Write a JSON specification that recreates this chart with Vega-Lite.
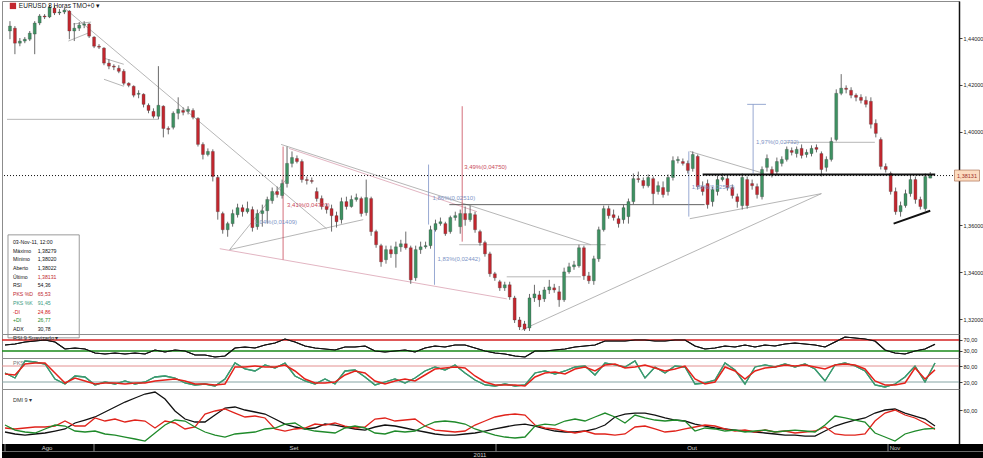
{
"$schema":"https://vega.github.io/schema/vega-lite/v6.json",
"background":"white","padding":0,"spacing":0,"bounds":"flush",
"config":{"view":{"stroke":"#8c8c8c","strokeWidth":1},"font":"Liberation Sans",
 "axis":{"labelFont":"Liberation Sans","labelFontSize":5.5,"labelColor":"#222","tickSize":3,"tickColor":"#444","domainColor":"#111","domainWidth":1.5,"grid":false,"labelPadding":1}},
"datasets":{
"candles":[
{"i":0,"o":1.4430,"h":1.4472,"l":1.4395,"c":1.4451},{"i":1,"o":1.4442,"h":1.4451,"l":1.4331,"c":1.4378},{"i":2,"o":1.4378,"h":1.4400,"l":1.4365,"c":1.4387},{"i":3,"o":1.4387,"h":1.4404,"l":1.4378,"c":1.4395},{"i":4,"o":1.4395,"h":1.4430,"l":1.4387,"c":1.4421},{"i":5,"o":1.4417,"h":1.4472,"l":1.4331,"c":1.4464},{"i":6,"o":1.4464,"h":1.4502,"l":1.4455,"c":1.4494},{"i":7,"o":1.4494,"h":1.4502,"l":1.4481,"c":1.4490},{"i":8,"o":1.4490,"h":1.4541,"l":1.4485,"c":1.4532},{"i":9,"o":1.4528,"h":1.4537,"l":1.4498,"c":1.4507},
{"i":10,"o":1.4507,"h":1.4524,"l":1.4498,"c":1.4511},{"i":11,"o":1.4511,"h":1.4528,"l":1.4502,"c":1.4519},{"i":12,"o":1.4515,"h":1.4519,"l":1.4395,"c":1.4430},{"i":13,"o":1.4430,"h":1.4464,"l":1.4387,"c":1.4442},{"i":14,"o":1.4442,"h":1.4468,"l":1.4430,"c":1.4455},{"i":15,"o":1.4455,"h":1.4472,"l":1.4442,"c":1.4460},{"i":16,"o":1.4460,"h":1.4464,"l":1.4400,"c":1.4408},{"i":17,"o":1.4404,"h":1.4408,"l":1.4357,"c":1.4365},{"i":18,"o":1.4365,"h":1.4374,"l":1.4353,"c":1.4361},{"i":19,"o":1.4357,"h":1.4361,"l":1.4284,"c":1.4293},
{"i":20,"o":1.4293,"h":1.4310,"l":1.4267,"c":1.4280},{"i":21,"o":1.4280,"h":1.4288,"l":1.4263,"c":1.4276},{"i":22,"o":1.4271,"h":1.4284,"l":1.4250,"c":1.4258},{"i":23,"o":1.4258,"h":1.4267,"l":1.4198,"c":1.4207},{"i":24,"o":1.4207,"h":1.4211,"l":1.4190,"c":1.4198},{"i":25,"o":1.4194,"h":1.4198,"l":1.4147,"c":1.4156},{"i":26,"o":1.4160,"h":1.4177,"l":1.4143,"c":1.4164},{"i":27,"o":1.4160,"h":1.4164,"l":1.4104,"c":1.4117},{"i":28,"o":1.4113,"h":1.4121,"l":1.4079,"c":1.4091},{"i":29,"o":1.4087,"h":1.4100,"l":1.4057,"c":1.4066},
{"i":30,"o":1.4066,"h":1.4280,"l":1.4053,"c":1.4113},{"i":31,"o":1.4109,"h":1.4113,"l":1.3976,"c":1.4014},{"i":32,"o":1.4014,"h":1.4023,"l":1.3989,"c":1.4010},{"i":33,"o":1.4019,"h":1.4087,"l":1.4010,"c":1.4079},{"i":34,"o":1.4079,"h":1.4147,"l":1.4053,"c":1.4096},{"i":35,"o":1.4091,"h":1.4104,"l":1.4070,"c":1.4083},{"i":36,"o":1.4087,"h":1.4109,"l":1.4074,"c":1.4096},{"i":37,"o":1.4091,"h":1.4100,"l":1.4053,"c":1.4062},{"i":38,"o":1.4057,"h":1.4062,"l":1.3937,"c":1.3946},{"i":39,"o":1.3946,"h":1.3955,"l":1.3882,"c":1.3903},
{"i":40,"o":1.3903,"h":1.3929,"l":1.3895,"c":1.3916},{"i":41,"o":1.3916,"h":1.3925,"l":1.3788,"c":1.3809},{"i":42,"o":1.3805,"h":1.3813,"l":1.3625,"c":1.3659},{"i":43,"o":1.3651,"h":1.3659,"l":1.3565,"c":1.3582},{"i":44,"o":1.3582,"h":1.3616,"l":1.3552,"c":1.3608},{"i":45,"o":1.3608,"h":1.3668,"l":1.3595,"c":1.3651},{"i":46,"o":1.3646,"h":1.3693,"l":1.3634,"c":1.3676},{"i":47,"o":1.3676,"h":1.3689,"l":1.3638,"c":1.3659},{"i":48,"o":1.3659,"h":1.3702,"l":1.3651,"c":1.3672},{"i":49,"o":1.3668,"h":1.3681,"l":1.3574,"c":1.3591},
{"i":50,"o":1.3595,"h":1.3668,"l":1.3582,"c":1.3651},{"i":51,"o":1.3651,"h":1.3689,"l":1.3595,"c":1.3663},{"i":52,"o":1.3663,"h":1.3723,"l":1.3608,"c":1.3711},{"i":53,"o":1.3706,"h":1.3762,"l":1.3693,"c":1.3745},{"i":54,"o":1.3745,"h":1.3766,"l":1.3719,"c":1.3732},{"i":55,"o":1.3728,"h":1.3796,"l":1.3715,"c":1.3779},{"i":56,"o":1.3779,"h":1.3937,"l":1.3762,"c":1.3865},{"i":57,"o":1.3865,"h":1.3916,"l":1.3848,"c":1.3890},{"i":58,"o":1.3886,"h":1.3899,"l":1.3865,"c":1.3873},{"i":59,"o":1.3873,"h":1.3882,"l":1.3783,"c":1.3796},
{"i":60,"o":1.3796,"h":1.3809,"l":1.3775,"c":1.3792},{"i":61,"o":1.3792,"h":1.3805,"l":1.3779,"c":1.3788},{"i":62,"o":1.3745,"h":1.3762,"l":1.3702,"c":1.3715},{"i":63,"o":1.3715,"h":1.3728,"l":1.3668,"c":1.3681},{"i":64,"o":1.3681,"h":1.3693,"l":1.3651,"c":1.3668},{"i":65,"o":1.3672,"h":1.3689,"l":1.3574,"c":1.3642},{"i":66,"o":1.3642,"h":1.3659,"l":1.3591,"c":1.3616},{"i":67,"o":1.3625,"h":1.3719,"l":1.3608,"c":1.3702},{"i":68,"o":1.3702,"h":1.3723,"l":1.3668,"c":1.3681},{"i":69,"o":1.3681,"h":1.3728,"l":1.3676,"c":1.3711},
{"i":70,"o":1.3711,"h":1.3736,"l":1.3702,"c":1.3719},{"i":71,"o":1.3715,"h":1.3723,"l":1.3638,"c":1.3651},{"i":72,"o":1.3655,"h":1.3796,"l":1.3642,"c":1.3719},{"i":73,"o":1.3715,"h":1.3723,"l":1.3556,"c":1.3574},{"i":74,"o":1.3574,"h":1.3582,"l":1.3505,"c":1.3518},{"i":75,"o":1.3514,"h":1.3522,"l":1.3424,"c":1.3445},{"i":76,"o":1.3454,"h":1.3514,"l":1.3437,"c":1.3497},{"i":77,"o":1.3497,"h":1.3514,"l":1.3462,"c":1.3479},{"i":78,"o":1.3479,"h":1.3531,"l":1.3420,"c":1.3509},{"i":79,"o":1.3509,"h":1.3539,"l":1.3488,"c":1.3522},
{"i":80,"o":1.3522,"h":1.3574,"l":1.3497,"c":1.3505},{"i":81,"o":1.3505,"h":1.3514,"l":1.3351,"c":1.3368},{"i":82,"o":1.3377,"h":1.3514,"l":1.3364,"c":1.3497},{"i":83,"o":1.3497,"h":1.3531,"l":1.3479,"c":1.3509},{"i":84,"o":1.3509,"h":1.3531,"l":1.3501,"c":1.3514},{"i":85,"o":1.3514,"h":1.3599,"l":1.3501,"c":1.3582},{"i":86,"o":1.3582,"h":1.3625,"l":1.3574,"c":1.3608},{"i":87,"o":1.3608,"h":1.3634,"l":1.3599,"c":1.3616},{"i":88,"o":1.3608,"h":1.3616,"l":1.3556,"c":1.3565},{"i":89,"o":1.3574,"h":1.3642,"l":1.3565,"c":1.3634},
{"i":90,"o":1.3634,"h":1.3659,"l":1.3621,"c":1.3642},{"i":91,"o":1.3595,"h":1.3668,"l":1.3565,"c":1.3651},{"i":92,"o":1.3651,"h":1.3681,"l":1.3599,"c":1.3625},{"i":93,"o":1.3625,"h":1.3685,"l":1.3616,"c":1.3651},{"i":94,"o":1.3646,"h":1.3659,"l":1.3569,"c":1.3582},{"i":95,"o":1.3574,"h":1.3582,"l":1.3514,"c":1.3527},{"i":96,"o":1.3527,"h":1.3535,"l":1.3467,"c":1.3479},{"i":97,"o":1.3479,"h":1.3488,"l":1.3381,"c":1.3394},{"i":98,"o":1.3394,"h":1.3402,"l":1.3364,"c":1.3377},{"i":99,"o":1.3360,"h":1.3368,"l":1.3321,"c":1.3334},
{"i":100,"o":1.3334,"h":1.3360,"l":1.3321,"c":1.3347},{"i":101,"o":1.3347,"h":1.3360,"l":1.3283,"c":1.3295},{"i":102,"o":1.3291,"h":1.3300,"l":1.3184,"c":1.3197},{"i":103,"o":1.3197,"h":1.3210,"l":1.3154,"c":1.3167},{"i":104,"o":1.3180,"h":1.3193,"l":1.3150,"c":1.3158},{"i":105,"o":1.3163,"h":1.3308,"l":1.3150,"c":1.3291},{"i":106,"o":1.3291,"h":1.3347,"l":1.3274,"c":1.3308},{"i":107,"o":1.3304,"h":1.3321,"l":1.3253,"c":1.3283},{"i":108,"o":1.3287,"h":1.3338,"l":1.3274,"c":1.3325},{"i":109,"o":1.3325,"h":1.3368,"l":1.3308,"c":1.3338},
{"i":110,"o":1.3334,"h":1.3351,"l":1.3313,"c":1.3325},{"i":111,"o":1.3317,"h":1.3342,"l":1.3253,"c":1.3283},{"i":112,"o":1.3283,"h":1.3420,"l":1.3274,"c":1.3402},{"i":113,"o":1.3402,"h":1.3441,"l":1.3394,"c":1.3424},{"i":114,"o":1.3424,"h":1.3449,"l":1.3411,"c":1.3432},{"i":115,"o":1.3428,"h":1.3518,"l":1.3420,"c":1.3505},{"i":116,"o":1.3505,"h":1.3514,"l":1.3368,"c":1.3385},{"i":117,"o":1.3385,"h":1.3402,"l":1.3351,"c":1.3364},{"i":118,"o":1.3364,"h":1.3471,"l":1.3347,"c":1.3458},{"i":119,"o":1.3458,"h":1.3595,"l":1.3445,"c":1.3582},
{"i":120,"o":1.3582,"h":1.3685,"l":1.3574,"c":1.3672},{"i":121,"o":1.3672,"h":1.3685,"l":1.3629,"c":1.3642},{"i":122,"o":1.3646,"h":1.3668,"l":1.3621,"c":1.3634},{"i":123,"o":1.3629,"h":1.3642,"l":1.3591,"c":1.3608},{"i":124,"o":1.3625,"h":1.3689,"l":1.3608,"c":1.3676},{"i":125,"o":1.3638,"h":1.3715,"l":1.3608,"c":1.3702},{"i":126,"o":1.3702,"h":1.3822,"l":1.3689,"c":1.3800},{"i":127,"o":1.3800,"h":1.3830,"l":1.3783,"c":1.3796},{"i":128,"o":1.3792,"h":1.3805,"l":1.3758,"c":1.3770},{"i":129,"o":1.3770,"h":1.3818,"l":1.3762,"c":1.3805},
{"i":130,"o":1.3800,"h":1.3809,"l":1.3689,"c":1.3736},{"i":131,"o":1.3745,"h":1.3788,"l":1.3732,"c":1.3770},{"i":132,"o":1.3762,"h":1.3788,"l":1.3719,"c":1.3732},{"i":133,"o":1.3745,"h":1.3818,"l":1.3728,"c":1.3805},{"i":134,"o":1.3805,"h":1.3895,"l":1.3792,"c":1.3877},{"i":135,"o":1.3877,"h":1.3895,"l":1.3865,"c":1.3882},{"i":136,"o":1.3873,"h":1.3886,"l":1.3856,"c":1.3865},{"i":137,"o":1.3865,"h":1.3877,"l":1.3822,"c":1.3835},{"i":138,"o":1.3843,"h":1.3916,"l":1.3830,"c":1.3903},{"i":139,"o":1.3895,"h":1.3903,"l":1.3753,"c":1.3766},
{"i":140,"o":1.3766,"h":1.3788,"l":1.3728,"c":1.3745},{"i":141,"o":1.3779,"h":1.3796,"l":1.3672,"c":1.3689},{"i":142,"o":1.3702,"h":1.3766,"l":1.3681,"c":1.3753},{"i":143,"o":1.3745,"h":1.3813,"l":1.3728,"c":1.3796},{"i":144,"o":1.3796,"h":1.3822,"l":1.3788,"c":1.3805},{"i":145,"o":1.3800,"h":1.3813,"l":1.3749,"c":1.3762},{"i":146,"o":1.3762,"h":1.3775,"l":1.3715,"c":1.3728},{"i":147,"o":1.3723,"h":1.3736,"l":1.3676,"c":1.3702},{"i":148,"o":1.3685,"h":1.3822,"l":1.3668,"c":1.3805},{"i":149,"o":1.3796,"h":1.3809,"l":1.3672,"c":1.3685},
{"i":150,"o":1.3779,"h":1.3796,"l":1.3753,"c":1.3770},{"i":151,"o":1.3766,"h":1.3779,"l":1.3715,"c":1.3732},{"i":152,"o":1.3723,"h":1.3852,"l":1.3711,"c":1.3839},{"i":153,"o":1.3848,"h":1.3903,"l":1.3830,"c":1.3886},{"i":154,"o":1.3839,"h":1.3852,"l":1.3805,"c":1.3818},{"i":155,"o":1.3830,"h":1.3890,"l":1.3813,"c":1.3873},{"i":156,"o":1.3865,"h":1.3895,"l":1.3852,"c":1.3882},{"i":157,"o":1.3882,"h":1.3937,"l":1.3873,"c":1.3925},{"i":158,"o":1.3920,"h":1.3933,"l":1.3899,"c":1.3912},{"i":159,"o":1.3907,"h":1.3937,"l":1.3890,"c":1.3925},
{"i":160,"o":1.3929,"h":1.3946,"l":1.3886,"c":1.3899},{"i":161,"o":1.3903,"h":1.3925,"l":1.3890,"c":1.3912},{"i":162,"o":1.3907,"h":1.3942,"l":1.3895,"c":1.3929},{"i":163,"o":1.3933,"h":1.3946,"l":1.3912,"c":1.3925},{"i":164,"o":1.3907,"h":1.3916,"l":1.3809,"c":1.3839},{"i":165,"o":1.3848,"h":1.3895,"l":1.3830,"c":1.3882},{"i":166,"o":1.3882,"h":1.3976,"l":1.3873,"c":1.3959},{"i":167,"o":1.3967,"h":1.4181,"l":1.3959,"c":1.4164},{"i":168,"o":1.4164,"h":1.4246,"l":1.4156,"c":1.4186},{"i":169,"o":1.4186,"h":1.4198,"l":1.4164,"c":1.4181},
{"i":170,"o":1.4177,"h":1.4190,"l":1.4143,"c":1.4156},{"i":171,"o":1.4156,"h":1.4164,"l":1.4130,"c":1.4147},{"i":172,"o":1.4147,"h":1.4160,"l":1.4121,"c":1.4134},{"i":173,"o":1.4134,"h":1.4151,"l":1.4104,"c":1.4117},{"i":174,"o":1.4130,"h":1.4147,"l":1.4014,"c":1.4032},{"i":175,"o":1.4036,"h":1.4053,"l":1.3976,"c":1.3993},{"i":176,"o":1.3967,"h":1.3976,"l":1.3839,"c":1.3852},{"i":177,"o":1.3852,"h":1.3865,"l":1.3826,"c":1.3839},{"i":178,"o":1.3822,"h":1.3830,"l":1.3732,"c":1.3745},{"i":179,"o":1.3745,"h":1.3762,"l":1.3646,"c":1.3659},
{"i":180,"o":1.3659,"h":1.3702,"l":1.3638,"c":1.3685},{"i":181,"o":1.3685,"h":1.3753,"l":1.3676,"c":1.3736},{"i":182,"o":1.3736,"h":1.3813,"l":1.3723,"c":1.3796},{"i":183,"o":1.3796,"h":1.3809,"l":1.3693,"c":1.3711},{"i":184,"o":1.3711,"h":1.3723,"l":1.3668,"c":1.3681},{"i":185,"o":1.3672,"h":1.3822,"l":1.3663,"c":1.3809},{"i":186,"o":1.38022,"h":1.38279,"l":1.38020,"c":1.38131}
],
"ind":[
{"i":0,"rsi":51.8,"d":50,"k":53.8,"adx":20,"mdi":27.3,"pdi":32.7},{"i":2,"rsi":55.4,"d":46.3,"k":35,"adx":16.4,"mdi":25.5,"pdi":23.6},{"i":4,"rsi":62.7,"d":87.5,"k":98.8,"adx":14.5,"mdi":27.3,"pdi":20},{"i":6,"rsi":66.4,"d":91.3,"k":95,"adx":16.4,"mdi":29.1,"pdi":18.2},{"i":8,"rsi":70,"d":91.3,"k":87.5,"adx":18.2,"mdi":29.1,"pdi":25.5},{"i":10,"rsi":62.7,"d":53.8,"k":31.3,"adx":21.8,"mdi":30.9,"pdi":32.7},{"i":12,"rsi":37.2,"d":16.3,"k":12.5,"adx":25.5,"mdi":40,"pdi":30.9},{"i":14,"rsi":40.9,"d":35,"k":42.5,"adx":36.4,"mdi":30.9,"pdi":21.8},{"i":16,"rsi":37.2,"d":23.8,"k":38.8,"adx":41.8,"mdi":30.9,"pdi":20},{"i":18,"rsi":22.7,"d":12.5,"k":8.8,"adx":47.3,"mdi":45.5,"pdi":21.8},
{"i":20,"rsi":19,"d":16.3,"k":20,"adx":56.4,"mdi":40,"pdi":16.4},{"i":22,"rsi":22.7,"d":16.3,"k":12.5,"adx":65.5,"mdi":43.6,"pdi":14.5},{"i":24,"rsi":19,"d":12.5,"k":23.8,"adx":74.5,"mdi":38.2,"pdi":10.9},{"i":26,"rsi":22.7,"d":16.3,"k":12.5,"adx":81.8,"mdi":41.8,"pdi":7.3},{"i":28,"rsi":19,"d":16.3,"k":20,"adx":89.1,"mdi":40,"pdi":3.6},{"i":30,"rsi":33.6,"d":23.8,"k":38.8,"adx":92.7,"mdi":27.3,"pdi":18.2},{"i":32,"rsi":26.3,"d":27.5,"k":42.5,"adx":80,"mdi":40,"pdi":32.7},{"i":34,"rsi":33.6,"d":31.3,"k":35,"adx":58.2,"mdi":36.4,"pdi":41.8},{"i":36,"rsi":30,"d":23.8,"k":16.3,"adx":43.6,"mdi":25.5,"pdi":40},{"i":38,"rsi":15.4,"d":12.5,"k":8.8,"adx":38.2,"mdi":29.1,"pdi":29.1},
{"i":40,"rsi":15.4,"d":12.5,"k":12.5,"adx":38.2,"mdi":52.7,"pdi":20},{"i":42,"rsi":8.1,"d":8.8,"k":5,"adx":50.9,"mdi":58.2,"pdi":14.5},{"i":44,"rsi":11.8,"d":12.5,"k":31.3,"adx":63.6,"mdi":61.8,"pdi":10.9},{"i":46,"rsi":40.9,"d":76.3,"k":91.3,"adx":65.5,"mdi":54.5,"pdi":16.4},{"i":48,"rsi":44.5,"d":76.3,"k":68.8,"adx":60,"mdi":47.3,"pdi":18.2},{"i":50,"rsi":40.9,"d":80,"k":61.3,"adx":56.4,"mdi":49.1,"pdi":20},{"i":52,"rsi":51.8,"d":76.3,"k":83.8,"adx":52.7,"mdi":45.5,"pdi":25.5},{"i":54,"rsi":59.1,"d":76.3,"k":72.5,"adx":43.6,"mdi":25.5,"pdi":27.3},{"i":56,"rsi":73.6,"d":83.8,"k":91.3,"adx":34.5,"mdi":21.8,"pdi":34.5},{"i":58,"rsi":62.7,"d":61.3,"k":42.5,"adx":29.1,"mdi":25.5,"pdi":36.4},
{"i":60,"rsi":48.2,"d":31.3,"k":23.8,"adx":25.5,"mdi":27.3,"pdi":25.5},{"i":62,"rsi":40.9,"d":16.3,"k":12.5,"adx":27.3,"mdi":34.5,"pdi":21.8},{"i":64,"rsi":37.2,"d":16.3,"k":31.3,"adx":34.5,"mdi":32.7,"pdi":20},{"i":66,"rsi":33.6,"d":20,"k":12.5,"adx":32.7,"mdi":36.4,"pdi":18.2},{"i":68,"rsi":44.5,"d":46.3,"k":61.3,"adx":29.1,"mdi":30.9,"pdi":27.3},{"i":70,"rsi":44.5,"d":61.3,"k":65,"adx":25.5,"mdi":27.3,"pdi":30.9},{"i":72,"rsi":48.2,"d":53.8,"k":38.8,"adx":23.6,"mdi":29.1,"pdi":27.3},{"i":74,"rsi":30,"d":23.8,"k":8.8,"adx":29.1,"mdi":43.6,"pdi":18.2},{"i":76,"rsi":26.3,"d":12.5,"k":20,"adx":32.7,"mdi":45.5,"pdi":16.4},{"i":78,"rsi":30,"d":23.8,"k":31.3,"adx":30.9,"mdi":40,"pdi":21.8},
{"i":80,"rsi":33.6,"d":31.3,"k":16.3,"adx":27.3,"mdi":41.8,"pdi":20},{"i":82,"rsi":26.3,"d":23.8,"k":35,"adx":23.6,"mdi":43.6,"pdi":21.8},{"i":84,"rsi":40.9,"d":46.3,"k":61.3,"adx":20,"mdi":30.9,"pdi":30.9},{"i":86,"rsi":48.2,"d":68.8,"k":76.3,"adx":16.4,"mdi":23.6,"pdi":38.2},{"i":88,"rsi":44.5,"d":72.5,"k":65,"adx":14.5,"mdi":21.8,"pdi":40},{"i":90,"rsi":51.8,"d":76.3,"k":83.8,"adx":14.5,"mdi":20,"pdi":38.2},{"i":92,"rsi":51.8,"d":72.5,"k":53.8,"adx":16.4,"mdi":21.8,"pdi":34.5},{"i":94,"rsi":40.9,"d":42.5,"k":27.5,"adx":18.2,"mdi":32.7,"pdi":25.5},{"i":96,"rsi":30,"d":20,"k":8.8,"adx":21.8,"mdi":40,"pdi":20},{"i":98,"rsi":22.7,"d":8.8,"k":5,"adx":25.5,"mdi":47.3,"pdi":14.5},
{"i":100,"rsi":19,"d":8.8,"k":12.5,"adx":29.1,"mdi":50.9,"pdi":10.9},{"i":102,"rsi":11.8,"d":8.8,"k":5,"adx":32.7,"mdi":52.7,"pdi":9.1},{"i":104,"rsi":8.1,"d":5,"k":8.8,"adx":34.5,"mdi":50.9,"pdi":10.9},{"i":106,"rsi":30,"d":38.8,"k":53.8,"adx":30.9,"mdi":32.7,"pdi":30.9},{"i":108,"rsi":30,"d":53.8,"k":61.3,"adx":25.5,"mdi":27.3,"pdi":34.5},{"i":110,"rsi":33.6,"d":57.5,"k":50,"adx":21.8,"mdi":25.5,"pdi":32.7},{"i":112,"rsi":37.2,"d":50,"k":61.3,"adx":20,"mdi":21.8,"pdi":40},{"i":114,"rsi":44.5,"d":68.8,"k":76.3,"adx":20,"mdi":18.2,"pdi":43.6},{"i":116,"rsi":48.2,"d":76.3,"k":80,"adx":21.8,"mdi":21.8,"pdi":40},{"i":118,"rsi":51.8,"d":61.3,"k":46.3,"adx":25.5,"mdi":16.4,"pdi":47.3},
{"i":120,"rsi":66.4,"d":83.8,"k":91.3,"adx":32.7,"mdi":16.4,"pdi":54.5},{"i":122,"rsi":66.4,"d":87.5,"k":83.8,"adx":47.3,"mdi":14.5,"pdi":47.3},{"i":124,"rsi":66.4,"d":72.5,"k":76.3,"adx":52.7,"mdi":16.4,"pdi":36.4},{"i":126,"rsi":70,"d":76.3,"k":98.8,"adx":54.5,"mdi":29.1,"pdi":50.9},{"i":128,"rsi":70,"d":83.8,"k":35,"adx":54.5,"mdi":30.9,"pdi":45.5},{"i":130,"rsi":66.4,"d":72.5,"k":76.3,"adx":50.9,"mdi":25.5,"pdi":41.8},{"i":132,"rsi":66.4,"d":61.3,"k":53.8,"adx":45.5,"mdi":20,"pdi":40},{"i":134,"rsi":70,"d":68.8,"k":80,"adx":41.8,"mdi":21.8,"pdi":41.8},{"i":136,"rsi":70,"d":80,"k":76.3,"adx":40,"mdi":25.5,"pdi":40},{"i":138,"rsi":48.2,"d":31.3,"k":12.5,"adx":34.5,"mdi":29.1,"pdi":21.8},
{"i":140,"rsi":37.2,"d":12.5,"k":16.3,"adx":30.9,"mdi":32.7,"pdi":27.3},{"i":142,"rsi":40.9,"d":20,"k":27.5,"adx":27.3,"mdi":30.9,"pdi":25.5},{"i":144,"rsi":48.2,"d":76.3,"k":91.3,"adx":25.5,"mdi":25.5,"pdi":21.8},{"i":146,"rsi":44.5,"d":61.3,"k":65,"adx":23.6,"mdi":21.8,"pdi":23.6},{"i":148,"rsi":51.8,"d":31.3,"k":12.5,"adx":21.8,"mdi":23.6,"pdi":20},{"i":150,"rsi":44.5,"d":61.3,"k":76.3,"adx":20,"mdi":20,"pdi":21.8},{"i":152,"rsi":51.8,"d":72.5,"k":83.8,"adx":18.2,"mdi":23.6,"pdi":23.6},{"i":154,"rsi":48.2,"d":76.3,"k":76.3,"adx":16.4,"mdi":20,"pdi":20},{"i":156,"rsi":55.4,"d":83.8,"k":87.5,"adx":14.5,"mdi":21.8,"pdi":21.8},{"i":158,"rsi":59.1,"d":80,"k":76.3,"adx":14.5,"mdi":18.2,"pdi":23.6},
{"i":160,"rsi":55.4,"d":83.8,"k":87.5,"adx":12.7,"mdi":20,"pdi":21.8},{"i":162,"rsi":51.8,"d":76.3,"k":68.8,"adx":12.7,"mdi":21.8,"pdi":20},{"i":164,"rsi":44.5,"d":68.8,"k":23.8,"adx":21.8,"mdi":29.1,"pdi":32.7},{"i":166,"rsi":62.7,"d":83.8,"k":83.8,"adx":30.9,"mdi":16.4,"pdi":49.1},{"i":168,"rsi":80.9,"d":87.5,"k":91.3,"adx":36.4,"mdi":14.5,"pdi":45.5},{"i":170,"rsi":77.3,"d":83.8,"k":80,"adx":41.8,"mdi":14.5,"pdi":41.8},{"i":172,"rsi":73.6,"d":68.8,"k":61.3,"adx":45.5,"mdi":16.4,"pdi":38.2},{"i":174,"rsi":66.4,"d":23.8,"k":8.8,"adx":54.5,"mdi":40,"pdi":18.2},{"i":176,"rsi":33.6,"d":8.8,"k":1.3,"adx":60,"mdi":54.5,"pdi":10.9},{"i":178,"rsi":22.7,"d":8.8,"k":12.5,"adx":61.8,"mdi":60,"pdi":3.6},
{"i":180,"rsi":19,"d":16.3,"k":38.8,"adx":54.5,"mdi":50.9,"pdi":16.4},{"i":182,"rsi":30,"d":72.5,"k":80,"adx":49.1,"mdi":45.5,"pdi":21.8},{"i":184,"rsi":37.2,"d":31.3,"k":20,"adx":43.6,"mdi":36.4,"pdi":25.5},{"i":186,"rsi":54.36,"d":65.53,"k":91.45,"adx":30.78,"mdi":24.86,"pdi":26.77}
],
"lines":[
{"i":11,"p":1.4528,"i2":64,"p2":1.3586,"kind":"trend"},
{"i":-0.6,"p":1.4053,"i2":30,"p2":1.4053,"kind":"trend"},
{"i":11.8,"p":1.4387,"i2":15.8,"p2":1.4421,"kind":"trend"},
{"i":12.8,"p":1.4460,"i2":16.4,"p2":1.4468,"kind":"trend"},
{"i":19,"p":1.4314,"i2":23,"p2":1.4288,"kind":"trend"},
{"i":19,"p":1.4224,"i2":23,"p2":1.4194,"kind":"trend"},
{"i":54.8,"p":1.3946,"i2":117.4,"p2":1.3518,"kind":"trend"},
{"i":56.4,"p":1.3929,"i2":94.4,"p2":1.3659,"kind":"channel"},
{"i":42.4,"p":1.3501,"i2":100.4,"p2":1.3287,"kind":"channel"},
{"i":44.4,"p":1.3497,"i2":71.4,"p2":1.3625,"kind":"trend"},
{"i":44.4,"p":1.3497,"i2":55.8,"p2":1.3796,"kind":"trend"},
{"i":103.4,"p":1.3154,"i2":164,"p2":1.3736,"kind":"trend"},
{"i":137.4,"p":1.3629,"i2":164,"p2":1.3736,"kind":"trend"},
{"i":137.4,"p":1.3916,"i2":152.4,"p2":1.3822,"kind":"trend"},
{"i":88.8,"p":1.3689,"i2":140.4,"p2":1.3689,"kind":"level"},
{"i":90.8,"p":1.3518,"i2":120.4,"p2":1.3518,"kind":"trend"},
{"i":100.4,"p":1.3381,"i2":115.4,"p2":1.3381,"kind":"trend"},
{"i":156.8,"p":1.3955,"i2":174.8,"p2":1.3955,"kind":"trend"},
{"i":140,"p":1.3818,"i2":187,"p2":1.3818,"kind":"key"},
{"i":178.6,"p":1.3608,"i2":186,"p2":1.3663,"kind":"key"},
{"i":55.2,"p":1.3937,"i2":55.2,"p2":1.3454,"kind":"down"},
{"i":84.6,"p":1.3860,"i2":84.6,"p2":1.3604,"kind":"up"},
{"i":85.8,"p":1.3604,"i2":85.8,"p2":1.3347,"kind":"up"},
{"i":91.4,"p":1.4109,"i2":91.4,"p2":1.3531,"kind":"down"},
{"i":150.2,"p":1.4117,"i2":150.2,"p2":1.3822,"kind":"up"},
{"i":149,"p":1.4117,"i2":152.8,"p2":1.4117,"kind":"up"},
{"i":137.2,"p":1.3916,"i2":137.2,"p2":1.3638,"kind":"up"}
],
"notes":[
{"i":56,"p":1.3689,"t":"3,41%(0,04720)","kind":"down"},
{"i":49.4,"p":1.3616,"t":"1,04%(0,01409)","kind":"up"},
{"i":85.4,"p":1.3719,"t":"1,86%(0,02510)","kind":"up"},
{"i":86.4,"p":1.3458,"t":"1,83%(0,02442)","kind":"up"},
{"i":91.8,"p":1.3848,"t":"3,49%(0,04750)","kind":"down"},
{"i":150.8,"p":1.3955,"t":"1,97%(0,02732)","kind":"up"},
{"i":137.8,"p":1.3766,"t":"1,88%(0,02590)","kind":"up"}
],
"info":[
{"row":0,"name":"03-Nov-11, 12:00","val":"","series":"base"},
{"row":1,"name":"Máximo","val":"1,38279","series":"base"},
{"row":2,"name":"Mínimo","val":"1,38020","series":"base"},
{"row":3,"name":"Aberto","val":"1,38022","series":"base"},
{"row":4,"name":"Último","val":"1,38131","series":"last"},
{"row":5,"name":"RSI","val":"54,36","series":"base"},
{"row":6,"name":"PKS %D","val":"65,53","series":"pksd"},
{"row":7,"name":"PKS %K","val":"91,45","series":"pksk"},
{"row":8,"name":"-DI","val":"24,86","series":"mdi"},
{"row":9,"name":"+DI","val":"26,77","series":"pdi"},
{"row":10,"name":"ADX","val":"30,78","series":"adx"}
],
"tl":[
{"t":"","i":0,"tier":0},{"t":"","i":17.8,"tier":0},{"t":"","i":98.2,"tier":0},{"t":"","i":176.6,"tier":0},
{"t":"Ago","i":8.4,"tier":2},{"t":"Set","i":57.8,"tier":2},{"t":"Out","i":137.4,"tier":2},{"t":"Nov","i":178,"tier":2},
{"t":"2011","i":95,"tier":1}
]
},
"vconcat":[
{
"width":957,"height":333,
"layer":[
{"layer":[
 {"data":{"name":"lines"},"transform":[{"filter":"datum.kind !== 'key'"}],"mark":{"type":"rule","strokeWidth":0.8},
  "encoding":{"x":{"field":"i","type":"quantitative","scale":{"domain":[-0.6,190.8],"nice":false,"zero":false},"axis":null},"x2":{"field":"i2"},
   "y":{"field":"p","type":"quantitative","title":null,"scale":{"domain":[1.3137,1.4558],"nice":false,"zero":false},"axis":{"orient":"right","values":[1.32,1.34,1.36,1.40,1.42,1.44],"labelExpr":"replace(format(datum.value,'.5f'),'.',',')","title":null}},
   "y2":{"field":"p2"},
   "color":{"field":"kind","type":"nominal","scale":{"domain":["trend","channel","level","up","down"],"range":["#a3a3a3","#dba2b2","#3a3a3a","#7d93c6","#c94a5a"]},"legend":null}}},
 {"data":{"name":"candles"},"mark":{"type":"rule","color":"#6a6a6a","strokeWidth":1},
  "encoding":{"x":{"field":"i","type":"quantitative","scale":{"domain":[-0.6,190.8],"nice":false,"zero":false},"axis":null},
   "y":{"field":"l","type":"quantitative","title":null,"scale":{"domain":[1.3137,1.4558],"nice":false,"zero":false}},"y2":{"field":"h"}}},
 {"data":{"name":"candles"},"mark":{"type":"bar","size":3,"stroke":"#3a3a3a","strokeWidth":0.3},
  "encoding":{"x":{"field":"i","type":"quantitative","scale":{"domain":[-0.6,190.8],"nice":false,"zero":false},"axis":null},
   "y":{"field":"o","type":"quantitative","title":null,"scale":{"domain":[1.3137,1.4558],"nice":false,"zero":false}},"y2":{"field":"c"},
   "color":{"condition":{"test":"datum.c >= datum.o","value":"#3e9162"},"value":"#c3262e"}}},
 {"data":{"name":"lines"},"transform":[{"filter":"datum.kind === 'key'"}],"mark":{"type":"rule","strokeWidth":2,"color":"#111"},
  "encoding":{"x":{"field":"i","type":"quantitative","scale":{"domain":[-0.6,190.8],"nice":false,"zero":false},"axis":null},"x2":{"field":"i2"},
   "y":{"field":"p","type":"quantitative","title":null,"scale":{"domain":[1.3137,1.4558],"nice":false,"zero":false}},"y2":{"field":"p2"}}},
 {"data":{"values":[{}]},"mark":{"type":"rule","color":"#111","strokeDash":[1,2],"strokeWidth":1},
  "encoding":{"y":{"datum":1.38131,"type":"quantitative","scale":{"domain":[1.3137,1.4558],"nice":false,"zero":false}}}},
 {"data":{"name":"notes"},"mark":{"type":"text","fontSize":6,"align":"left","baseline":"middle"},
  "encoding":{"x":{"field":"i","type":"quantitative","scale":{"domain":[-0.6,190.8],"nice":false,"zero":false},"axis":null},
   "y":{"field":"p","type":"quantitative","title":null,"scale":{"domain":[1.3137,1.4558],"nice":false,"zero":false}},
   "text":{"field":"t"},
   "color":{"field":"kind","type":"nominal","scale":{"domain":["trend","channel","level","up","down"],"range":["#a3a3a3","#dba2b2","#3a3a3a","#7d93c6","#c94a5a"]},"legend":null}}},
 {"data":{"values":[{}]},"mark":{"type":"point","shape":"square","filled":true,"size":40,"color":"#c3262e","opacity":1},
  "encoding":{"x":{"datum":0.6,"type":"quantitative","scale":{"domain":[-0.6,190.8],"nice":false,"zero":false},"axis":null},
   "y":{"datum":1.4537,"type":"quantitative","scale":{"domain":[1.3137,1.4558],"nice":false,"zero":false}}}},
 {"data":{"values":[{}]},"mark":{"type":"text","text":"EURUSD 8 Horas TMO+0   ▾","fontSize":6.5,"align":"left","baseline":"middle","color":"#111"},
  "encoding":{"x":{"datum":1.8,"type":"quantitative","scale":{"domain":[-0.6,190.8],"nice":false,"zero":false},"axis":null},
   "y":{"datum":1.4537,"type":"quantitative","scale":{"domain":[1.3137,1.4558],"nice":false,"zero":false}}}},
 {"data":{"values":[{}]},"mark":{"type":"point","shape":"M-1.25,-0.55L1.25,-0.55L1.25,0.55L-1.25,0.55Z","size":400,"filled":true,"fill":"#fcdcc0","stroke":"#a06040","strokeWidth":0.6,"opacity":1,"xOffset":13},
  "encoding":{"x":{"datum":190.8,"type":"quantitative","scale":{"domain":[-0.6,190.8],"nice":false,"zero":false},"axis":null},
   "y":{"datum":1.38131,"type":"quantitative","scale":{"domain":[1.3137,1.4558],"nice":false,"zero":false}}}},
 {"data":{"values":[{}]},"mark":{"type":"text","text":"1,38131","fontSize":5.5,"align":"center","baseline":"middle","color":"#a0302a","dx":13},
  "encoding":{"x":{"datum":190.8,"type":"quantitative","scale":{"domain":[-0.6,190.8],"nice":false,"zero":false},"axis":null},
   "y":{"datum":1.38131,"type":"quantitative","scale":{"domain":[1.3137,1.4558],"nice":false,"zero":false}}}}
]},
{"layer":[
 {"data":{"values":[{}]},"mark":{"type":"rect","fill":"#ffffff","stroke":"#808080","strokeWidth":0.8},
  "encoding":{"x":{"datum":-0.4,"type":"quantitative","scale":{"domain":[-0.6,190.8],"nice":false,"zero":false},"axis":null},"x2":{"datum":14},
   "y":{"datum":-0.8,"type":"quantitative","scale":{"domain":[-27.6,10.56],"reverse":true,"nice":false,"zero":false},"axis":null},"y2":{"datum":11}}},
 {"data":{"name":"info"},"mark":{"type":"text","fontSize":5.2,"align":"left","baseline":"middle"},
  "encoding":{"x":{"datum":0.6,"type":"quantitative","scale":{"domain":[-0.6,190.8],"nice":false,"zero":false},"axis":null},
   "y":{"field":"row","type":"quantitative","scale":{"domain":[-27.6,10.56],"reverse":true,"nice":false,"zero":false},"axis":null},
   "text":{"field":"name"},
   "color":{"condition":{"test":"datum.series === 'last'","value":"#111111"},"field":"series","type":"nominal","scale":{"domain":["base","last","pksd","pksk","mdi","pdi","adx"],"range":["#111111","#c0282f","#c0282f","#3a9a80","#d02020","#2a8a2a","#111111"]},"legend":null}}},
 {"data":{"name":"info"},"mark":{"type":"text","fontSize":5.2,"align":"left","baseline":"middle"},
  "encoding":{"x":{"datum":5.6,"type":"quantitative","scale":{"domain":[-0.6,190.8],"nice":false,"zero":false},"axis":null},
   "y":{"field":"row","type":"quantitative","scale":{"domain":[-27.6,10.56],"reverse":true,"nice":false,"zero":false},"axis":null},
   "text":{"field":"val"},
   "color":{"field":"series","type":"nominal","scale":{"domain":["base","last","pksd","pksk","mdi","pdi","adx"],"range":["#111111","#c0282f","#c0282f","#3a9a80","#d02020","#2a8a2a","#111111"]},"legend":null}}}
]}
],
"resolve":{"scale":{"y":"independent","color":"independent"},"axis":{"y":"independent"}}
},
{
"width":957,"height":24,
"layer":[
 {"data":{"name":"ind"},"mark":{"type":"line","color":"#111","strokeWidth":1.1},
  "encoding":{"x":{"field":"i","type":"quantitative","scale":{"domain":[-0.6,190.8],"nice":false,"zero":false},"axis":null},
   "y":{"field":"rsi","type":"quantitative","title":null,"scale":{"domain":[4.5,91.8],"nice":false,"zero":false},"axis":{"orient":"right","values":[30,70],"labelExpr":"replace(format(datum.value,'.2f'),'.',',')","title":null}}}},
 {"data":{"values":[{}]},"mark":{"type":"rule","color":"#d42020","strokeWidth":1.5},
  "encoding":{"y":{"datum":70,"type":"quantitative","scale":{"domain":[4.5,91.8],"nice":false,"zero":false}}}},
 {"data":{"values":[{}]},"mark":{"type":"rule","color":"#1a8a1a","strokeWidth":1.5},
  "encoding":{"y":{"datum":30,"type":"quantitative","scale":{"domain":[4.5,91.8],"nice":false,"zero":false}}}},
 {"data":{"name":"ind"},"mark":{"type":"line","color":"#111","strokeWidth":1.1},
  "encoding":{"x":{"field":"i","type":"quantitative","scale":{"domain":[-0.6,190.8],"nice":false,"zero":false},"axis":null},
   "y":{"field":"rsi","type":"quantitative","title":null,"scale":{"domain":[4.5,91.8],"nice":false,"zero":false}}}},
 {"data":{"values":[{}]},"mark":{"type":"text","text":"RSI 9 Suavizado ▾","fontSize":5.5,"align":"left","baseline":"middle","color":"#333"},
  "encoding":{"x":{"datum":1.6,"type":"quantitative","scale":{"domain":[-0.6,190.8],"nice":false,"zero":false},"axis":null},
   "y":{"datum":79,"type":"quantitative","scale":{"domain":[4.5,91.8],"nice":false,"zero":false}}}}
]
},
{
"width":957,"height":31,
"layer":[
 {"data":{"name":"ind"},"mark":{"type":"line","color":"#3a9a70","strokeWidth":1.3},
  "encoding":{"x":{"field":"i","type":"quantitative","scale":{"domain":[-0.6,190.8],"nice":false,"zero":false},"axis":null},
   "y":{"field":"k","type":"quantitative","title":null,"scale":{"domain":[-6.25,110],"nice":false,"zero":false},"axis":{"orient":"right","values":[20,80],"labelExpr":"replace(format(datum.value,'.2f'),'.',',')","title":null}}}},
 {"data":{"values":[{}]},"mark":{"type":"rule","color":"#e39090","strokeWidth":1},
  "encoding":{"y":{"datum":80,"type":"quantitative","scale":{"domain":[-6.25,110],"nice":false,"zero":false}}}},
 {"data":{"values":[{}]},"mark":{"type":"rule","color":"#86a4a4","strokeWidth":1},
  "encoding":{"y":{"datum":20,"type":"quantitative","scale":{"domain":[-6.25,110],"nice":false,"zero":false}}}},
 {"data":{"name":"ind"},"mark":{"type":"line","color":"#3a9a70","strokeWidth":1.3},
  "encoding":{"x":{"field":"i","type":"quantitative","scale":{"domain":[-0.6,190.8],"nice":false,"zero":false},"axis":null},
   "y":{"field":"k","type":"quantitative","title":null,"scale":{"domain":[-6.25,110],"nice":false,"zero":false}}}},
 {"data":{"name":"ind"},"mark":{"type":"line","color":"#e5221b","strokeWidth":1.5},
  "encoding":{"x":{"field":"i","type":"quantitative","scale":{"domain":[-0.6,190.8],"nice":false,"zero":false},"axis":null},
   "y":{"field":"d","type":"quantitative","title":null,"scale":{"domain":[-6.25,110],"nice":false,"zero":false}}}},
 {"data":{"values":[{}]},"mark":{"type":"text","text":"PKS","fontSize":5.5,"align":"left","baseline":"middle","color":"#777"},
  "encoding":{"x":{"datum":1.6,"type":"quantitative","scale":{"domain":[-0.6,190.8],"nice":false,"zero":false},"axis":null},
   "y":{"datum":92,"type":"quantitative","scale":{"domain":[-6.25,110],"nice":false,"zero":false}}}}
]
},
{
"width":957,"height":55,
"layer":[
 {"data":{"name":"ind"},"mark":{"type":"line","color":"#111","strokeWidth":1.3},
  "encoding":{"x":{"field":"i","type":"quantitative","scale":{"domain":[-0.6,190.8],"nice":false,"zero":false},"axis":null},
   "y":{"field":"adx","type":"quantitative","title":null,"scale":{"domain":[-1.8,98.2],"nice":false,"zero":false},"axis":{"orient":"right","values":[60],"labelExpr":"replace(format(datum.value,'.2f'),'.',',')","title":null}}}},
 {"data":{"name":"ind"},"mark":{"type":"line","color":"#e0231b","strokeWidth":1.3},
  "encoding":{"x":{"field":"i","type":"quantitative","scale":{"domain":[-0.6,190.8],"nice":false,"zero":false},"axis":null},
   "y":{"field":"mdi","type":"quantitative","title":null,"scale":{"domain":[-1.8,98.2],"nice":false,"zero":false}}}},
 {"data":{"name":"ind"},"mark":{"type":"line","color":"#1f8a2a","strokeWidth":1.3},
  "encoding":{"x":{"field":"i","type":"quantitative","scale":{"domain":[-0.6,190.8],"nice":false,"zero":false},"axis":null},
   "y":{"field":"pdi","type":"quantitative","title":null,"scale":{"domain":[-1.8,98.2],"nice":false,"zero":false}}}},
 {"data":{"values":[{}]},"mark":{"type":"text","text":"DMI 9 ▾","fontSize":5.5,"align":"left","baseline":"middle","color":"#333"},
  "encoding":{"x":{"datum":1.6,"type":"quantitative","scale":{"domain":[-0.6,190.8],"nice":false,"zero":false},"axis":null},
   "y":{"datum":79,"type":"quantitative","scale":{"domain":[-1.8,98.2],"nice":false,"zero":false}}}}
]
},
{
"width":983,"height":15,
"view":{"fill":"#000000","stroke":null},
"data":{"name":"tl"},
"layer":[
 {"data":{"values":[{}]},"mark":{"type":"rule","color":"#6a6a6a","strokeWidth":1},
  "encoding":{"y":{"datum":1.5,"type":"quantitative","scale":{"domain":[0.5,2.5],"nice":false,"zero":false},"axis":null}}},
 {"transform":[{"filter":"datum.tier === 0"}],"mark":{"type":"rule","color":"#8a8a8a","strokeWidth":1},
  "encoding":{"x":{"field":"i","type":"quantitative","scale":{"domain":[-0.6,196.0],"nice":false,"zero":false},"axis":null},
   "y":{"datum":1.5,"type":"quantitative","scale":{"domain":[0.5,2.5],"nice":false,"zero":false},"axis":null},"y2":{"datum":2.5}}},
 {"transform":[{"filter":"datum.tier > 0"}],"mark":{"type":"text","fontSize":6,"color":"#cfcfcf","baseline":"middle","align":"center"},
  "encoding":{"x":{"field":"i","type":"quantitative","scale":{"domain":[-0.6,196.0],"nice":false,"zero":false},"axis":null},
   "y":{"field":"tier","type":"quantitative","scale":{"domain":[0.5,2.5],"nice":false,"zero":false},"axis":null},
   "text":{"field":"t"}}}
]
}
]
}
